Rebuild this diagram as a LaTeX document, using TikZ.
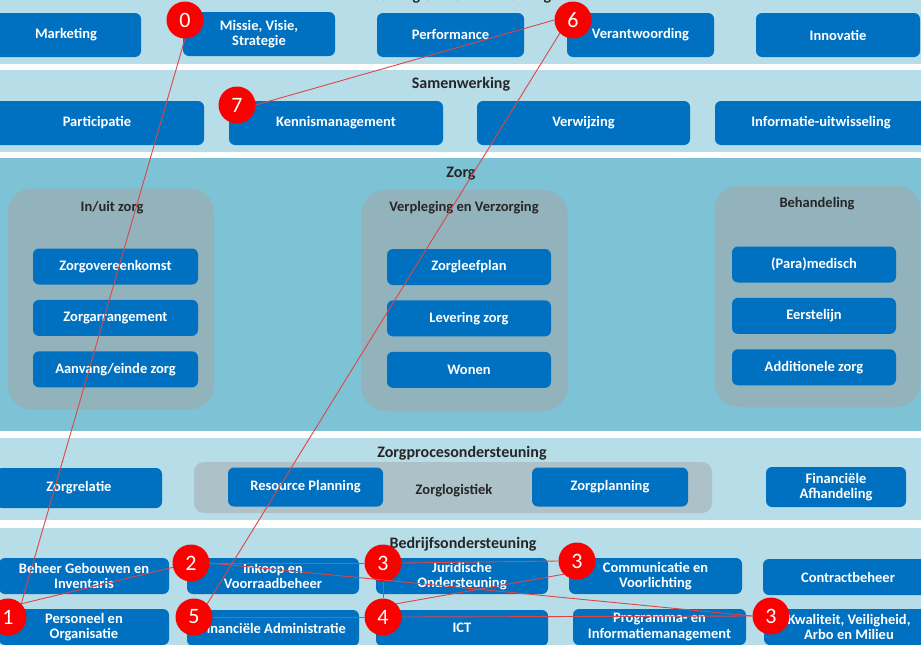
\documentclass[tikz,border=0pt]{standalone}
\usepackage{fontspec}
\setmainfont{Carlito}
\usetikzlibrary{positioning}
\definecolor{bandlicht}{RGB}{183,221,232}
\definecolor{bandzorg}{RGB}{126,194,213}
\definecolor{grijsgroep}{RGB}{146,178,188}
\definecolor{grijslogistiek}{RGB}{173,193,200}
\definecolor{zirablauw}{RGB}{0,112,192}
\definecolor{zirarood}{RGB}{250,0,0}
\definecolor{lijnrood}{RGB}{222,70,70}

\begin{document}
\begin{tikzpicture}[x=1pt, y=-1pt,
			blok/.style={rectangle, rounded corners=6pt, fill=zirablauw, text=white, font=\bfseries\fontsize{14.5}{15.5}\selectfont, align=center, inner sep=0pt, minimum height=36pt},
			groep/.style={rectangle, rounded corners=24pt, fill=grijsgroep, inner sep=0pt, minimum width=206pt, minimum height=221pt},
			titel/.style={font=\bfseries\fontsize{16}{17}\selectfont, text=black!85},
			subtitel/.style={font=\bfseries\fontsize{14.5}{15.5}\selectfont, text=black!85},
			stap/.style={circle, fill=zirarood, text=white, font=\fontsize{22}{22}\selectfont, minimum size=37pt, inner sep=0pt},
			spoor/.style={draw=lijnrood, line width=0.9pt},
		]

			\clip (0,0) rectangle (921,645);
			\fill[white] (0,0) rectangle (921,645);

			% lagen
			\fill[bandlicht] (0,-10) rectangle (921,64);
			\fill[bandlicht] (0,70) rectangle (921,152);
			\fill[bandzorg] (0,158) rectangle (921,431);
			\fill[bandlicht] (0,438) rectangle (921,520);
			\fill[bandlicht] (0,528) rectangle (921,660);

			% Sturing en Verantwoording
			\node[titel, anchor=base] (tsturing) at (462,1) {Sturing en Verantwoording};
			\node[blok, minimum width=150pt, minimum height=44pt] (marketing) at (66,35) {Marketing};
			\node[blok, minimum width=152pt, minimum height=44pt] (missie) at (259,34) {Missie, Visie,\\Strategie};
			\node[blok, minimum width=147pt, minimum height=44pt] (performance) at (450.5,35) {Performance};
			\node[blok, minimum width=147pt, minimum height=44pt] (verantw) at (640.5,35) {Verantwoording};
			\node[blok, minimum width=164pt, minimum height=44pt] (innovatie) at (838,35) {Innovatie};

			% Samenwerking
			\node[titel] (tsamen) at (461,84) {Samenwerking};
			\node[blok, minimum width=214pt, minimum height=44pt] (participatie) at (97,123) {Participatie};
			\node[blok, minimum width=214pt, minimum height=44pt] (kennis) at (336,123) {Kennismanagement};
			\node[blok, minimum width=213pt, minimum height=44pt] (verwijzing) at (583.5,123) {Verwijzing};
			\node[blok, minimum width=212pt, minimum height=44pt] (infouit) at (821,123) {Informatie-uitwisseling};

			% Zorg
			\node[titel] (tzorg) at (461,174) {Zorg};
			\node[groep] (grpinuit) at (111,299) {};
			\node[groep] (grpverpl) at (464.5,300.5) {};
			\node[groep] (grpbeh) at (817.5,296.5) {};
			\node[subtitel] (tinuit) at (112,208) {In/uit zorg};
			\node[subtitel] (tverpl) at (464,208) {Verpleging en Verzorging};
			\node[subtitel] (tbeh) at (817,204) {Behandeling};

			\node[blok, minimum width=165pt] (overeenk) at (115.5,266.5) {Zorgovereenkomst};
			\node[blok, minimum width=165pt] (arrang) [below=15pt of overeenk] {Zorgarrangement};
			\node[blok, minimum width=165pt] (aanvang) [below=15pt of arrang] {Aanvang/einde zorg};

			\node[blok, minimum width=164pt] (leefplan) at (469,267) {Zorgleefplan};
			\node[blok, minimum width=164pt] (levering) [below=15pt of leefplan] {Levering zorg};
			\node[blok, minimum width=164pt] (wonen) [below=15pt of levering] {Wonen};

			\node[blok, minimum width=164pt] (paramed) at (814,264.5) {(Para)medisch};
			\node[blok, minimum width=164pt] (eerstelijn) [below=15pt of paramed] {Eerstelijn};
			\node[blok, minimum width=164pt] (additioneel) [below=15pt of eerstelijn] {Additionele zorg};

			% Zorgprocesondersteuning
			\node[titel] (tzpo) at (462,453) {Zorgprocesondersteuning};
			\node[rectangle, rounded corners=10pt, fill=grijslogistiek, minimum width=518pt, minimum height=51pt] (grplog) at (453,487.5) {};
			\node[subtitel] (tlog) at (454,491) {Zorglogistiek};
			\node[blok, minimum width=166pt, minimum height=40pt] (zorgrelatie) at (79,488) {Zorgrelatie};
			\node[blok, minimum width=155pt, minimum height=39pt] (resource) at (305.5,487) {Resource Planning};
			\node[blok, minimum width=156pt, minimum height=39pt] (zorgplanning) at (610,487) {Zorgplanning};
			\node[blok, minimum width=140pt, minimum height=40pt] (finafh) at (836,487) {Financiële\\Afhandeling};

			% Bedrijfsondersteuning
			\node[titel] (tbo) at (463,544) {Bedrijfsondersteuning};
			\node[blok, minimum width=170pt] (gebouwen) at (84,576) {Beheer Gebouwen en\\Inventaris};
			\node[blok, minimum width=172pt] (inkoop) at (273,576) {Inkoop en\\Voorraadbeheer};
			\node[blok, minimum width=172pt] (juridisch) at (462,576) {Juridische\\Ondersteuning};
			\node[blok, minimum width=173pt] (communicatie) at (655.5,576) {Communicatie en\\Voorlichting};
			\node[blok, minimum width=170pt] (contract) at (848,577) {Contractbeheer};

			\node[blok, minimum width=170pt] (personeel) at (84,627) {Personeel en\\Organisatie};
			\node[blok, minimum width=172pt] (finadm) at (273,628) {Financiële Administratie};
			\node[blok, minimum width=172pt] (ict) at (462,628) {ICT};
			\node[blok, minimum width=173pt] (programma) at (659.5,627) {Programma- en\\Informatiemanagement};
			\node[blok, minimum width=170pt] (kwaliteit) at (849,627) {Kwaliteit, Veiligheid,\\Arbo en Milieu};

			% stappen
			\node[stap] (s0) at (185,20) {0};
			\node[stap] (s6) at (573,20) {6};
			\node[stap] (s7) at (237,105) {7};
			\node[stap] (s1) at (8,617) {1};
			\node[stap] (s2) at (191,563) {2};
			\node[stap] (s3a) at (383,563) {3};
			\node[stap] (s3b) at (577,561) {3};
			\node[stap] (s5) at (194,617) {5};
			\node[stap] (s4) at (383,617) {4};
			\node[stap] (s3c) at (771,616) {3};

			\draw[spoor] (s0.south) -- (s1.45);
			\draw[spoor] (s1.45) -- (s2);
			\draw[spoor] (s2.east) -- (s3a.west);
			\draw[spoor] (s3a.east) -- (s3b.west);
			\draw[spoor] (s2.east) -- (s3c.west);
			\draw[spoor] (s3a.south) -- (s4.north);
			\draw[spoor] (s4.north east) -- (s3b.south west);
			\draw[spoor] (s5.east) -- (s4.west);
			\draw[spoor] (s4.east) -- (s3c.west);
			\draw[spoor] (s5.north east) -- (s6.south west);
			\draw[spoor] (s6.west) -- (s7.east);

		\end{tikzpicture}
\end{document}
